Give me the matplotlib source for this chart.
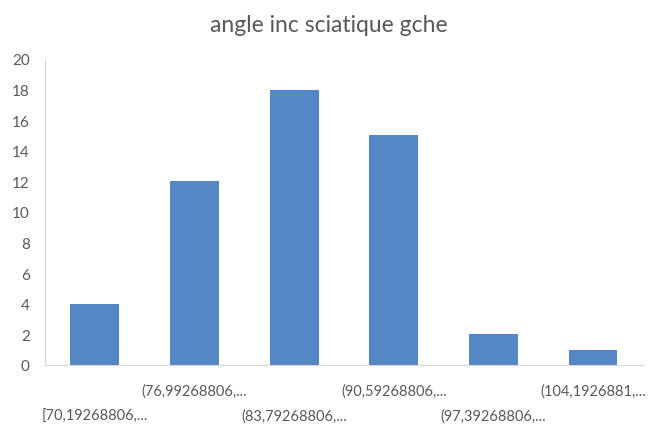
import matplotlib.pyplot as plt
import matplotlib.transforms as mtransforms

# histogram bins (truncated labels as shown) and counts
bins = ["[70,19268806,...", "(76,99268806,...", "(83,79268806,...",
        "(90,59268806,...", "(97,39268806,...", "(104,1926881,..."]
counts = [4, 12, 18, 15, 2, 1]
yticks = list(range(0, 21, 2))

plt.rcParams['font.family'] = ['Lato', 'DejaVu Sans']

fig = plt.figure(figsize=(6.58, 4.27), dpi=100)
ax = fig.add_axes([0.0684, 0.1429, 0.9086, 0.7166])

x = list(range(len(bins)))
ax.bar(x, counts, width=0.49, color='#5586C5')
ax.set_xlim(-0.5, len(bins) - 0.5)
ax.set_ylim(0, 20)
ax.set_yticks(yticks)
ax.tick_params(axis='y', length=0, labelsize=11, labelcolor='#595959', pad=11)
ax.set_xticks([])

for side in ['top', 'right']:
    ax.spines[side].set_visible(False)
ax.spines['left'].set_color('#D9D9D9')
ax.spines['bottom'].set_color('#D9D9D9')

# staggered category labels, two rows
trans = mtransforms.blended_transform_factory(ax.transData, ax.transAxes)
for i, lab in enumerate(bins):
    yy = -0.085 if i % 2 else -0.165
    ax.text(i, yy, lab, transform=trans, ha='center', va='center',
            fontsize=10.5, color='#595959')

fig.text(0.5, 0.94, "angle inc sciatique gche", ha='center', va='center',
         fontsize=16.5, color='#595959')

fig.savefig('out.png', dpi=100)
